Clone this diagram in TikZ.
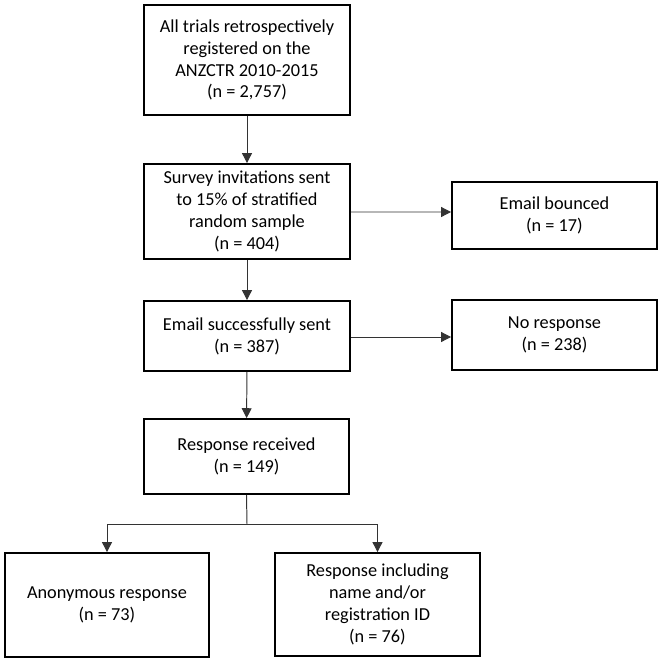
\documentclass[tikz,border=0pt]{standalone}
\usepackage{fontspec}
\setmainfont{Carlito}
\usetikzlibrary{arrows.meta}

\begin{document}
\begin{tikzpicture}[x=0.025cm, y=-0.025cm,
    box/.style={draw, line width=1.3pt, align=center, inner sep=2pt,
        font=\fontsize{13}{15.6}\selectfont},
    flow/.style={line width=0.7pt, draw=black!80, -{Triangle[length=7pt,width=7pt]}}]
    \useasboundingbox (0,0) rectangle (660,660);
    % main column
    \node[box, minimum width=5.15cm, minimum height=2.75cm] (all) at (247,60)
        {All trials retrospectively\\registered on the\\ANZCTR 2010-2015\\(n = 2,757)};
    \node[box, minimum width=5.15cm, minimum height=2.375cm] (invite) at (247,211.5)
        {Survey invitations sent\\to 15\% of stratified\\random sample\\(n = 404)};
    \node[box, minimum width=5.15cm, minimum height=1.75cm] (sent) at (247,336)
        {Email successfully sent\\(n = 387)};
    \node[box, minimum width=5.125cm, minimum height=1.875cm] (received) at (246.5,456.5)
        {Response received\\(n = 149)};
    % side boxes
    \node[box, minimum width=5.125cm, minimum height=1.675cm] (bounced) at (554.5,215.5)
        {Email bounced\\(n = 17)};
    \node[box, minimum width=5.125cm, minimum height=1.75cm] (noresp) at (554.5,335)
        {No response\\(n = 238)};
    % bottom boxes
    \node[box, minimum width=5.1cm, minimum height=2.6cm] (anon) at (107,605)
        {Anonymous response\\(n = 73)};
    \node[box, minimum width=5.125cm, minimum height=2.575cm] (named) at (377.5,604.5)
        {Response including\\name and/or\\registration ID\\(n = 76)};
    \coordinate (split) at (247,524);

    \draw[flow] (all) -- (invite);
    \draw[flow] (invite) -- (sent);
    \draw[flow] (sent) -- (received);
    \draw[flow] (invite.east) ++(0,0.5) -- (bounced.west |- {(0,212)});
    \draw[flow] (sent.east) ++(0,1) -- (noresp.west |- {(0,337)});
    \draw[line width=0.7pt, draw=black!80] (received.south) -- (split);
    \draw[flow] (split) -| (anon.north);
    \draw[flow] (split) -| (named.north);
\end{tikzpicture}
\end{document}
